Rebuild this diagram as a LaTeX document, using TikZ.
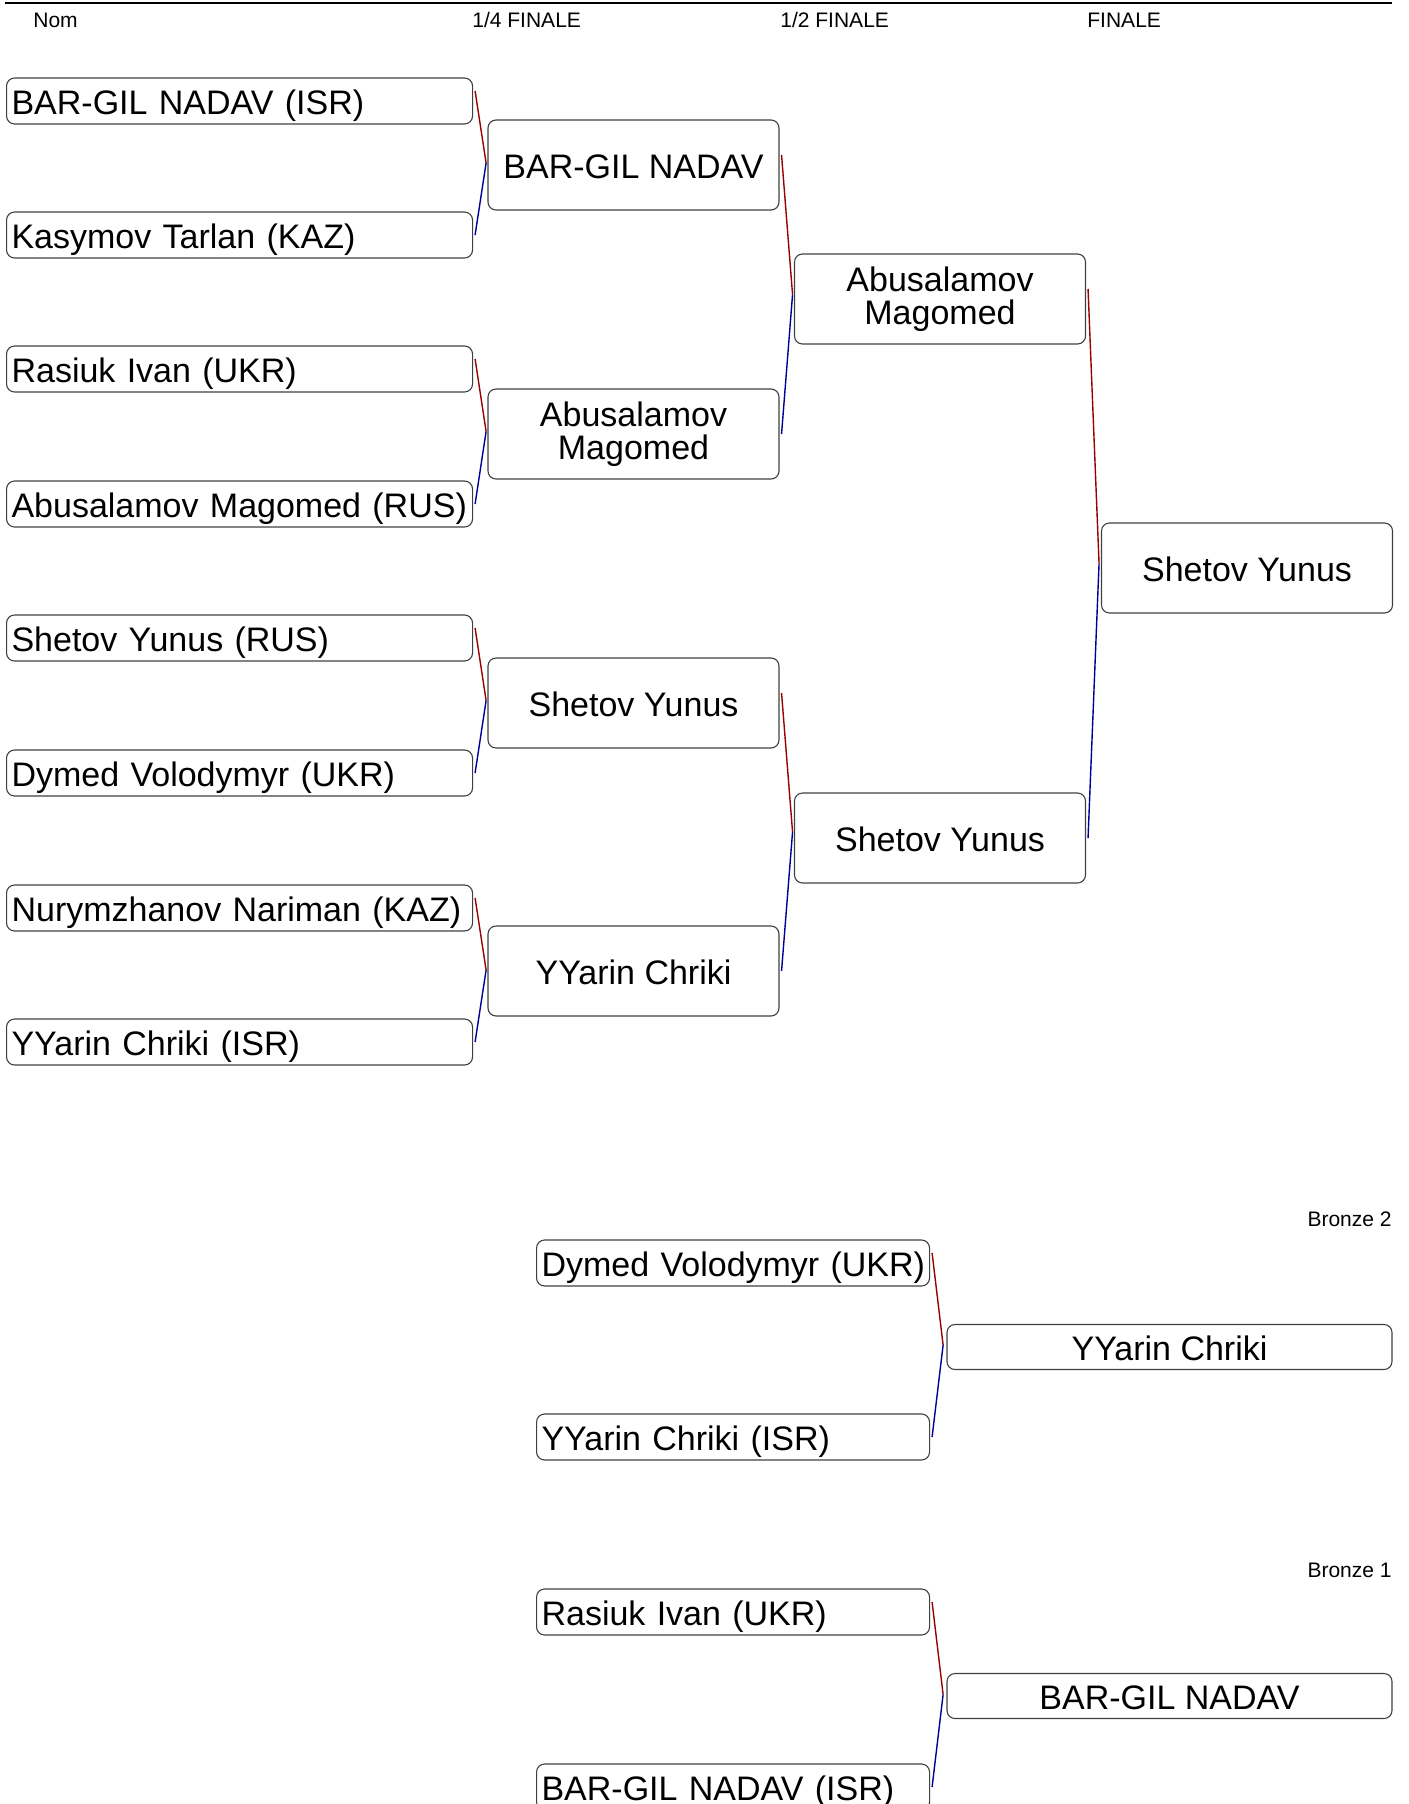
\documentclass[tikz,border=0pt]{standalone}
\usepackage{fontspec}
\setmainfont{Liberation Sans}
\usetikzlibrary{calc}
\definecolor{winred}{HTML}{990000}
\definecolor{winblue}{HTML}{000099}
\definecolor{boxgray}{HTML}{404040}
\newcommand{\namefont}{\fontsize{17}{16.5}\selectfont}
\newcommand{\headfont}{\fontsize{10.5}{12}\selectfont}

\begin{document}
\begin{tikzpicture}[x=0.5pt, y=-0.5pt,
    box/.style={draw=boxgray, line width=0.55pt, rounded corners=4pt, font=\namefont},
    oneline/.style={text height=13.4pt, text depth=0pt},
    entrant/.style={box, oneline, anchor=west, minimum height=23pt, text width=228pt, align=left, inner xsep=2.5pt, inner ysep=0pt},
    repechage/.style={entrant, text width=191.5pt},
    winner/.style={box, minimum width=145.5pt, minimum height=45pt, align=center, inner sep=0pt},
    bronze/.style={box, oneline, minimum width=222.5pt, minimum height=22.5pt, inner sep=0pt},
    head/.style={font=\headfont, inner sep=0pt, text height=7.6pt, text depth=0pt},
    redline/.style={winred, line width=0.7pt},
    blueline/.style={winblue, line width=0.7pt}]
    \useasboundingbox (0,0) rectangle (1408,1804);
    \draw[line width=1pt] (5,3) -- (1392,3);
    % column titles
    \node[head, anchor=west] (hnom) at (33,20) {Nom};
    \node[head, anchor=west] (hquart) at (472,20) {1/4 FINALE};
    \node[head, anchor=west] (hsemi) at (780,20) {1/2 FINALE};
    \node[head, anchor=west] (hfin) at (1087,20) {FINALE};
    % first round
    \node[entrant] (p1) at (6,101) {BAR-GIL NADAV (ISR)};
    \node[entrant] (p2) at (6,235) {Kasymov Tarlan (KAZ)};
    \node[entrant] (p3) at (6,369) {Rasiuk Ivan (UKR)};
    \node[entrant] (p4) at (6,504) {Abusalamov Magomed (RUS)};
    \node[entrant] (p5) at (6,638) {Shetov Yunus (RUS)};
    \node[entrant] (p6) at (6,773) {Dymed Volodymyr (UKR)};
    \node[entrant] (p7) at (6,908) {Nurymzhanov Nariman (KAZ)};
    \node[entrant] (p8) at (6,1042) {YYarin Chriki (ISR)};
    % quarter finals
    \node[winner, oneline] (q1) at (633.5,165) {BAR-GIL NADAV};
    \node[winner] (q2) at (633.5,434) {Abusalamov\\Magomed};
    \node[winner, oneline] (q3) at (633.5,703) {Shetov Yunus};
    \node[winner, oneline] (q4) at (633.5,971) {YYarin Chriki};
    % semi finals
    \node[winner] (s1) at (940,299) {Abusalamov\\Magomed};
    \node[winner, oneline] (s2) at (940,838) {Shetov Yunus};
    % final
    \node[winner, oneline] (f) at (1247,568) {Shetov Yunus};
    % bronze 2
    \node[head, anchor=east] (hbr2) at (1392,1219) {Bronze 2};
    \node[repechage] (b2a) at (536,1263) {\mbox{Dymed Volodymyr (UKR)}};
    \node[repechage] (b2b) at (536,1437) {YYarin Chriki (ISR)};
    \node[bronze] (b2w) at (1169.5,1347) {YYarin Chriki};
    % bronze 1
    \node[head, anchor=east] (hbr1) at (1392,1570) {Bronze 1};
    \node[repechage] (b1a) at (536,1612) {Rasiuk Ivan (UKR)};
    \node[repechage] (b1b) at (536,1787) {BAR-GIL NADAV (ISR)};
    \node[bronze] (b1w) at (1169.5,1696) {BAR-GIL NADAV};
    % joints
    \coordinate (j1) at ($(p1.east)!0.5!(p2.east)+(13,-5)$);
    \coordinate (j2) at ($(p3.east)!0.5!(p4.east)+(13,-5)$);
    \coordinate (j3) at ($(p5.east)!0.5!(p6.east)+(13,-5)$);
    \coordinate (j4) at ($(p7.east)!0.5!(p8.east)+(13,-5)$);
    \coordinate (j5) at ($(q1.east)!0.5!(q2.east)+(13,-5)$);
    \coordinate (j6) at ($(q3.east)!0.5!(q4.east)+(13,-5)$);
    \coordinate (j7) at ($(s1.east)!0.5!(s2.east)+(13,-5)$);
    \coordinate (j8) at ($(b2a.east)!0.5!(b2b.east)+(13,-5)$);
    \coordinate (j9) at ($(b1a.east)!0.5!(b1b.east)+(13,-5)$);
    % connectors
    \draw[redline] ([shift={(2,-10)}]p1.east) -- (j1);
    \draw[blueline] (j1) -- ([xshift=1pt]p2.east);
    \draw[redline] ([shift={(2,-10)}]p3.east) -- (j2);
    \draw[blueline] (j2) -- ([xshift=1pt]p4.east);
    \draw[redline] ([shift={(2,-10)}]p5.east) -- (j3);
    \draw[blueline] (j3) -- ([xshift=1pt]p6.east);
    \draw[redline] ([shift={(2,-10)}]p7.east) -- (j4);
    \draw[blueline] (j4) -- ([xshift=1pt]p8.east);
    \draw[redline] ([shift={(2,-10)}]q1.east) -- (j5);
    \draw[blueline] (j5) -- ([xshift=1pt]q2.east);
    \draw[redline] ([shift={(2,-10)}]q3.east) -- (j6);
    \draw[blueline] (j6) -- ([xshift=1pt]q4.east);
    \draw[redline] ([shift={(2,-10)}]s1.east) -- (j7);
    \draw[blueline] (j7) -- ([xshift=1pt]s2.east);
    \draw[redline] ([shift={(2,-10)}]b2a.east) -- (j8);
    \draw[blueline] (j8) -- ([xshift=1pt]b2b.east);
    \draw[redline] ([shift={(2,-10)}]b1a.east) -- (j9);
    \draw[blueline] (j9) -- ([xshift=1pt]b1b.east);
\end{tikzpicture}
\end{document}
